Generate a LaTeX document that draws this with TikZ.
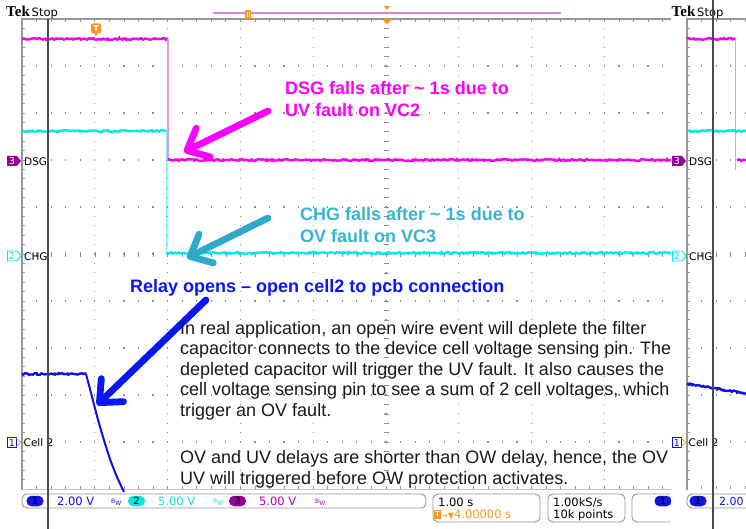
\documentclass[tikz,border=0pt]{standalone}
\usepackage{fontspec}
\setmainfont{Liberation Sans}
\newfontfamily\scopefont{DejaVu Sans}
\newfontfamily\tekfont{Liberation Serif}
\usetikzlibrary{arrows.meta,decorations.pathmorphing}
\definecolor{magtr}{RGB}{242,0,242}
\definecolor{magtx}{RGB}{252,0,252}
\definecolor{maglt}{RGB}{240,145,240}
\definecolor{cyantr}{RGB}{0,232,232}
\definecolor{cyanlt}{RGB}{120,238,238}
\definecolor{cyantx}{RGB}{55,180,212}
\definecolor{cyanarr}{RGB}{45,170,202}
\definecolor{bluetx}{RGB}{12,22,240}
\definecolor{bluetr}{RGB}{15,15,230}
\definecolor{bluepill}{RGB}{20,20,225}
\definecolor{gridc}{RGB}{140,140,140}
\definecolor{bordc}{RGB}{150,150,150}
\definecolor{cursorc}{RGB}{75,75,75}
\definecolor{tekorange}{RGB}{250,150,25}
\definecolor{purp}{RGB}{150,0,150}
\definecolor{purtx}{RGB}{175,0,175}
\definecolor{recpink}{RGB}{215,135,215}
\definecolor{bodytx}{RGB}{25,25,25}
\tikzset{
  body/.style={anchor=base west, inner sep=0pt, text=bodytx, font=\fontsize{18}{18}\selectfont},
  callout/.style={anchor=base west, inner sep=0pt, font=\fontsize{18}{18}\selectfont\bfseries},
  scopelbl/.style={anchor=west, inner sep=0pt, font=\scopefont\fontsize{10.5}{10.5}\selectfont, text=black},
  bartx/.style={anchor=base west, inner sep=0pt, font=\scopefont\fontsize{11.5}{11.5}\selectfont},
  bwtx/.style={anchor=base west, inner sep=0pt, font=\scopefont\fontsize{6}{6}\selectfont},
  pill/.style={rounded corners=5pt, minimum width=17pt, minimum height=10.5pt, inner sep=0pt, font=\scopefont\fontsize{10}{10}\selectfont, text=black},
  barbox/.style={draw=bordc, line width=0.9pt, rounded corners=5pt},
  bigarrow/.style={line width=6.8pt, line cap=round, -{Straight Barb[length=18pt, width=32pt, round]}},
  trc/.style={line width=2.4pt, decorate, decoration={random steps, segment length=1.6pt, amplitude=0.9pt}},
  digit/.style={inner sep=0pt, font=\scopefont\fontsize{9.5}{9.5}\selectfont},
}
\begin{document}
\begin{tikzpicture}[x=1pt,y=-1pt]
\pgfmathsetseed{11}
\useasboundingbox (0,0) rectangle (746,529);
\fill[white] (0,0) rectangle (746,529);
% ---------- main scope grid ----------
\foreach \k in {1,...,9}{
  \foreach \j in {1,...,49}{
    \fill[gridc] ({22+72.8*\k-0.6},{19+9.4*\j-0.6}) rectangle ++(1.2,1.2);
  }
}
\foreach \j in {1,...,9}{
  \foreach \i in {1,...,45}{
    \fill[gridc] ({22+14.56*\i-0.6},{19+47*\j-0.6}) rectangle ++(1.2,1.2);
  }
}
\foreach \j in {1,...,49}{
  \draw[gridc, line width=0.6pt] (383.5,{19+9.4*\j}) -- (388.5,{19+9.4*\j});
  \draw[bordc, line width=0.7pt] (22,{19+9.4*\j}) -- (25,{19+9.4*\j});
}
\foreach \i in {1,...,45}{
  \draw[gridc, line width=0.6pt] ({22+14.56*\i},251.5) -- ({22+14.56*\i},256.5);
  \draw[bordc, line width=0.7pt] ({22+14.56*\i},19) -- ({22+14.56*\i},22);
  \draw[bordc, line width=0.7pt] ({22+14.56*\i},489) -- ({22+14.56*\i},486);
}
\draw[bordc, line width=1.3pt] (22,490) -- (22,19) -- (671,19);
\draw[bordc!60, line width=0.6pt] (22,489) -- (671,489);
% ---------- record bar ----------
\draw[recpink, line width=1.3pt] (213,13) -- (561,13);
\fill[tekorange] (245,10) rectangle (251,19);
\draw[white, line width=0.6pt] (247,12) -- (247,17) (249,12) -- (249,17);
\fill[tekorange] (384,6) -- (390,6) -- (387,10) -- cycle;
\fill[tekorange] (382,19) -- (392,19) -- (387,24.5) -- cycle;
\node[anchor=base west, inner sep=0pt] (tek1) at (6,17) {\tekfont\bfseries\fontsize{15}{15}\selectfont Tek};
\node[anchor=base west, inner sep=0pt, font=\scopefont\fontsize{11.5}{11.5}\selectfont] (stop1) at (31.5,17) {Stop};
% trigger marker
\fill[tekorange] (96,36) -- (92.5,31) -- (99.5,31) -- cycle;
\node[fill=tekorange, rounded corners=2pt, minimum width=10pt, minimum height=10pt, inner sep=0pt, text=white, font=\scopefont\bfseries\fontsize{8}{8}\selectfont] (tmark) at (96,28.5) {T};
% ---------- traces ----------
\draw[magtr, trc] (22,39) -- (168,39);
\draw[maglt, line width=1.2pt] (168,39) -- (168,160);
\draw[magtr, trc] (168,160) -- (671,160);
\draw[cyantr, trc] (22,131) -- (166.5,131);
\draw[cyanlt, line width=1.2pt] (166.5,131) -- (166.5,253);
\draw[cyantr, trc] (166.5,253) -- (671,253);
\draw[bluetr, trc] (22,374) -- (86,374);
\draw[bluetr, line width=2pt] plot[smooth] coordinates {(86,374) (90,389) (97,416) (103,437) (110,459) (117,477) (124,492)};
% ---------- channel markers ----------
\fill[purp] (7,156) -- (17,156) -- (21,161) -- (17,166) -- (7,166) -- cycle;
\node[digit, text=white] (n3a) at (12,161.3) {3};
\node[scopelbl] (dsga) at (24,161.5) {DSG};
\draw[cyantr, fill=white, line width=0.9pt] (7.5,251) -- (17,251) -- (21,256) -- (17,261) -- (7.5,261) -- cycle;
\node[digit, text=cyantr] (n2a) at (12,256.3) {2};
\node[scopelbl] (chga) at (24,256.5) {CHG};
\draw[bluetr, fill=white, line width=0.9pt] (7.5,437.5) -- (16.5,437.5) -- (16.5,447.5) -- (7.5,447.5) -- cycle;
\draw[olive!60, line width=0.8pt] (16.5,438.5) -- (21,442.5) -- (16.5,446.5);
\node[digit, text=bluetr] (n1a) at (12,442.8) {1};
\node[scopelbl] (cella) at (23.5,443) {Cell 2};
% ---------- callouts ----------
\node[callout, text=magtx] (dsgt1) at (285,95) {DSG falls after \char`\~\ 1s due to};
\node[callout, text=magtx] (dsgt2) at (285,116.5) {UV fault on VC2};
\coordinate (ma0) at (268,111);
\coordinate (ma1) at (184,152);
\draw[magtx, bigarrow] (ma0) -- (ma1);
\node[callout, text=cyantx] (chgt1) at (300,221) {CHG falls after \char`\~\ 1s due to};
\node[callout, text=cyantx] (chgt2) at (300,242.5) {OV fault on VC3};
\coordinate (ca0) at (268,218);
\coordinate (ca1) at (187,258);
\draw[cyanarr, bigarrow] (ca0) -- (ca1);
\node[callout, text=bluetx] (relay) at (130,292.5) {Relay opens -- open cell2 to pcb connection};
\coordinate (ba0) at (206,300);
\coordinate (ba1) at (97,405);
\draw[bluetx, bigarrow] (ba0) -- (ba1);
\node[body] (l1) at (180,334) {In real application, an open wire event will deplete the filter};
\node[body] (l2) at (180,354.5) {capacitor connects to the device cell voltage sensing pin. The};
\node[body] (l3) at (180,375) {depleted capacitor will trigger the UV fault. It also causes the};
\node[body] (l4) at (180,395.5) {cell voltage sensing pin to see a sum of 2 cell voltages, which};
\node[body] (l5) at (180,416) {trigger an OV fault.};
\node[body] (l6) at (180,463) {OV and UV delays are shorter than OW delay, hence, the OV};
\node[body] (l7) at (180,484) {UV will triggered before OW protection activates.};
% ---------- bottom bar ----------
\draw[barbox] (22,494) rectangle (426,508);
\node[pill, fill=bluepill] (p1) at (35,501) {1};
\node[bartx, text=bluetr] (v1) at (57,505.5) {2.00 V};
\node[bwtx, text=bluetr] (bw1) at (111,503) {B\raisebox{-2pt}{W}};
\node[pill, fill=cyantr] (p2) at (136.5,501) {2};
\node[bartx, text=cyantr] (v2) at (158,505.5) {5.00 V};
\node[bwtx, text=cyantr] (bw2) at (213,503) {B\raisebox{-2pt}{W}};
\node[pill, fill=purp] (p3) at (237.5,501) {3};
\node[bartx, text=purtx] (v3) at (259,505.5) {5.00 V};
\node[bwtx, text=purtx] (bw3) at (315,503) {B\raisebox{-2pt}{W}};
\draw[barbox] (433,494) rectangle (540,522);
\node[bartx] (tb) at (438,506) {1.00 s};
\node[fill=tekorange, inner sep=0pt, minimum width=6.5pt, minimum height=9pt, text=white, font=\scopefont\bfseries\fontsize{7}{7}\selectfont] (tb2) at (437.5,514) {T};
\node[bartx, text=tekorange, font=\scopefont\fontsize{11.5}{11.5}\selectfont] (tpos) at (441,518) {\fontsize{8}{8}\selectfont→▼\fontsize{11.5}{11.5}\selectfont 4.00000 s};
\draw[barbox] (548,494) rectangle (625,522);
\node[bartx] (sr) at (553,506) {1.00kS/s};
\node[bartx] (pts) at (553,518) {10k points};
\draw[barbox] (632,494) rectangle (700,522);
\node[pill, fill=bluepill] (p1b) at (663,501) {1};
% main cursor
\draw[cursorc, line width=1.5pt] (48,19) -- (48,529);
% ---------- second scope overlay ----------
\fill[white] (671,0) rectangle (746,529);
\foreach \j in {1,...,9}{
  \foreach \i in {1,...,4}{
    \fill[gridc] ({687+14.56*\i-0.6},{19+47*\j-0.6}) rectangle ++(1.2,1.2);
  }
}
\foreach \j in {1,...,49}{
  \draw[bordc, line width=0.7pt] (687,{19+9.4*\j}) -- (690,{19+9.4*\j});
}
\foreach \i in {1,...,4}{
  \draw[gridc, line width=0.6pt] ({687+14.56*\i},251.5) -- ({687+14.56*\i},256.5);
  \draw[bordc, line width=0.7pt] ({687+14.56*\i},19) -- ({687+14.56*\i},22);
  \draw[bordc, line width=0.7pt] ({687+14.56*\i},489) -- ({687+14.56*\i},486);
}
\draw[bordc, line width=1.3pt] (687,490) -- (687,19) -- (746,19);
\node[anchor=base west, inner sep=0pt] (tek2) at (671.5,17) {\tekfont\bfseries\fontsize{15}{15}\selectfont Tek};
\node[anchor=base west, inner sep=0pt, font=\scopefont\fontsize{11.5}{11.5}\selectfont] (stop2) at (697,17) {Stop};
\draw[magtr, trc] (687,39) -- (735.5,39);
\draw[maglt, line width=1.2pt] (735.5,39) -- (735.5,170);
\draw[magtr, trc] (737,160) -- (746,160);
\draw[cyantr, trc] (687,131) -- (746,131);
\draw[bluetr, trc] (687,383.5) -- (746,393.5);
\fill[purp] (672,156) -- (682,156) -- (686,161) -- (682,166) -- (672,166) -- cycle;
\node[digit, text=white] (n3b) at (677,161.3) {3};
\node[scopelbl] (dsgb) at (689,161.5) {DSG};
\draw[cyantr, fill=white, line width=0.9pt] (672.5,251) -- (682,251) -- (686,256) -- (682,261) -- (672.5,261) -- cycle;
\node[digit, text=cyantr] (n2b) at (677,256.3) {2};
\node[scopelbl] (chgb) at (689,256.5) {CHG};
\draw[bluetr, fill=white, line width=0.9pt] (672.5,437.5) -- (681.5,437.5) -- (681.5,447.5) -- (672.5,447.5) -- cycle;
\draw[olive!60, line width=0.8pt] (681.5,438.5) -- (686,442.5) -- (681.5,446.5);
\node[digit, text=bluetr] (n1b) at (677,442.8) {1};
\node[scopelbl] (cellb) at (688.5,443) {Cell 2};
\draw[barbox] (687,494) rectangle (780,508);
\node[pill, fill=bluepill] (p1c) at (698,501) {1};
\node[bartx, text=bluetr, font=\scopefont\fontsize{11}{11}\selectfont] (v1b) at (719,505.5) {2.00};
\draw[cursorc, line width=1.5pt] (713,0) -- (713,529);
\end{tikzpicture}
\end{document}
